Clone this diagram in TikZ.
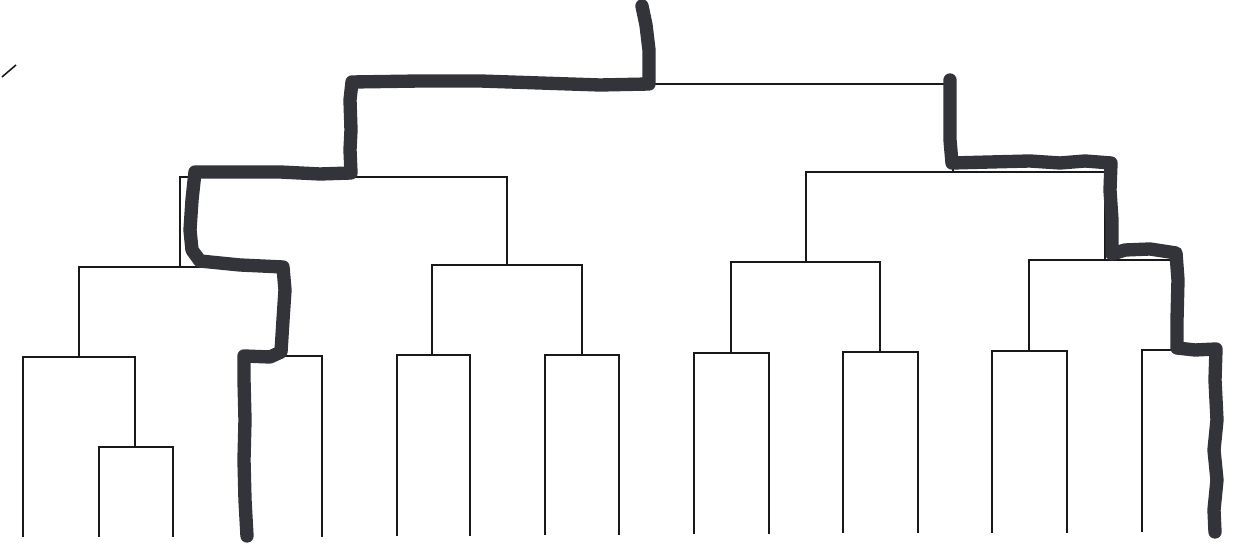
\documentclass[tikz,border=0pt]{standalone}
\usetikzlibrary{calc}
\definecolor{marker}{RGB}{50,52,58}
\definecolor{ink}{RGB}{25,25,25}
\begin{document}
\begin{tikzpicture}[x=0.02cm,y=-0.02cm,
  branch/.style={draw=ink,line width=1.1pt,line join=miter},
  route/.style={draw=marker,line width=7.6pt,line cap=round,line join=round},
  tick/.style={draw=ink,line width=0.9pt}]
\useasboundingbox (0,0) rectangle (1249,543);
% internal nodes (x, level of their own horizontal bar)
\coordinate (top) at (648,10);
\coordinate (root) at (648,84);
\coordinate (L) at (350,177);
\coordinate (R) at (953,172);
\coordinate (LL) at (180,267);
\coordinate (LR) at (507,265);
\coordinate (RL) at (806,262);
\coordinate (RR) at (1105,260);
\coordinate (LLL) at (79,357);
\coordinate (LLR) at (283,356);
\coordinate (LRL) at (432,355);
\coordinate (LRR) at (582,355);
\coordinate (RLL) at (731,353);
\coordinate (RLR) at (880,352);
\coordinate (RRL) at (1029,351);
\coordinate (RRR) at (1177,350);
\coordinate (LLLR) at (135,447);
% leaves
\coordinate (a1) at (23,537);
\coordinate (a2) at (99,537);
\coordinate (a3) at (173,537);
\coordinate (b1) at (245,537);
\coordinate (b2) at (322,537);
\coordinate (c1) at (397,536);
\coordinate (c2) at (470,536);
\coordinate (d1) at (545,535);
\coordinate (d2) at (619,535);
\coordinate (e1) at (694,534);
\coordinate (e2) at (769,534);
\coordinate (f1) at (843,533);
\coordinate (f2) at (918,533);
\coordinate (g1) at (992,533);
\coordinate (g2) at (1067,533);
\coordinate (h1) at (1142,532);
\coordinate (h2) at (1218,532);
% tree
\draw[branch] (top) -- (root);
\draw[branch] (L) |- (root) -| (R);
\draw[branch] (LL) |- (L) -| (LR);
\draw[branch] (RL) |- (R) -| (RR);
\draw[branch] (LLL) |- (LL) -| (LLR);
\draw[branch] (LRL) |- (LR) -| (LRR);
\draw[branch] (RLL) |- (RL) -| (RLR);
\draw[branch] (RRL) |- (RR) -| (RRR);
\draw[branch] (a1) |- (LLL) -| (LLLR);
\draw[branch] (a2) |- (LLLR) -| (a3);
\draw[branch] (b1) |- (LLR) -| (b2);
\draw[branch] (c1) |- (LRL) -| (c2);
\draw[branch] (d1) |- (LRR) -| (d2);
\draw[branch] (e1) |- (RLL) -| (e2);
\draw[branch] (f1) |- (RLR) -| (f2);
\draw[branch] (g1) |- (RRL) -| (g2);
\draw[branch] (h1) |- (RRR) -| (h2);
% stray pen mark
\draw[tick] (2,77) -- (16,65);
% hand-drawn highlighted routes
\draw[route] (642,6) -- (646,25) -- (649,50) -- (649,70) -- (649,84)
  -- (600,85) -- (540,83) -- (480,81) -- (420,81) -- (352,82)
  -- (350,100) -- (351,130) -- (350,150) -- (351,173)
  -- (320,174) -- (280,172) -- (240,172) -- (195,172)
  -- (192,200) -- (190,230) -- (192,250) -- (200,261)
  -- (240,265) -- (283,267) -- (285,290) -- (283,320) -- (281,352)
  -- (270,357) -- (244,356) -- (244,380) -- (245,420) -- (244,460)
  -- (245,500) -- (247,536);
\draw[route] (950,80) -- (950,110) -- (950,140) -- (952,163)
  -- (990,162) -- (1030,161) -- (1060,163) -- (1085,161) -- (1111,163)
  -- (1110,190) -- (1112,220) -- (1112,254)
  -- (1125,250) -- (1150,249) -- (1176,253)
  -- (1178,280) -- (1177,320) -- (1177,348)
  -- (1195,350) -- (1216,349) -- (1215,380) -- (1217,420)
  -- (1214,450) -- (1217,480) -- (1214,510) -- (1215,532);
\end{tikzpicture}
\end{document}
